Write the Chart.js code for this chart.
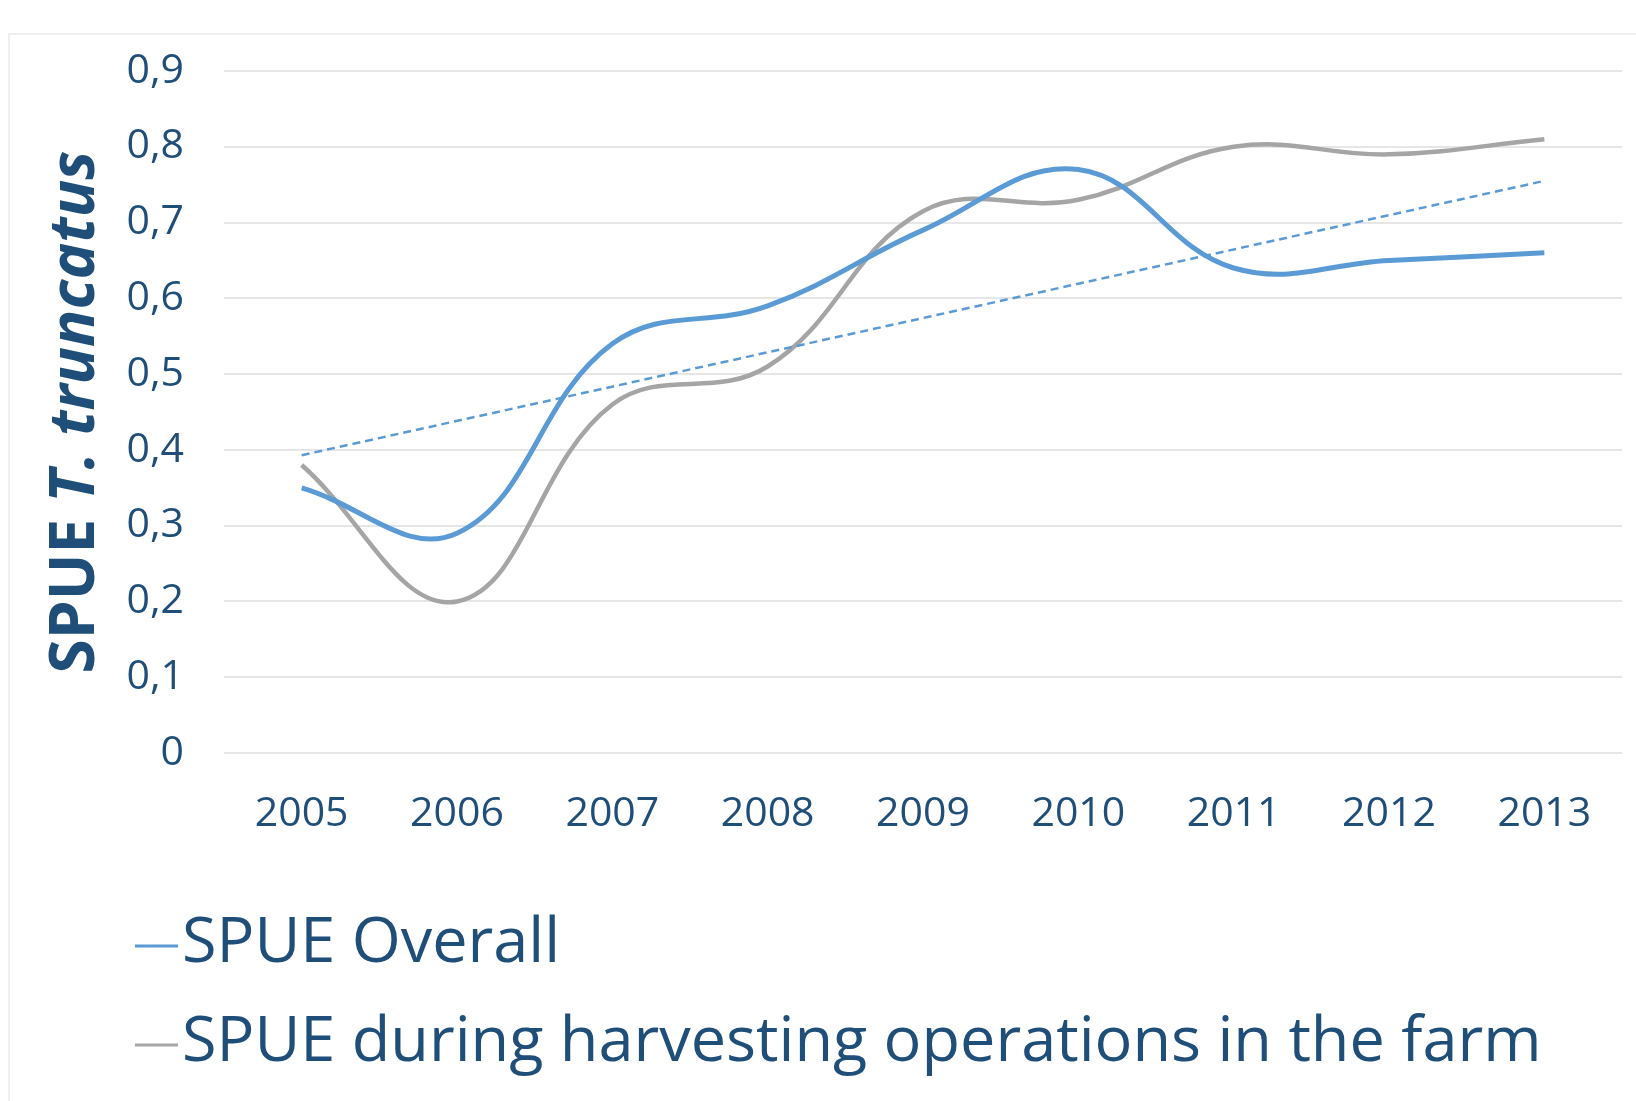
<!DOCTYPE html>
<html>
<head>
<meta charset="utf-8">
<script src="https://cdn.jsdelivr.net/npm/chart.js@4.4.0/dist/chart.umd.min.js"></script>
<style>
  html, body { margin: 0; padding: 0; background: #ffffff; }
  #wrap { position: relative; width: 1636px; height: 1101px; overflow: hidden; }
  #frame { position: absolute; left: 8px; top: 33px; width: 1700px; height: 1200px; border: 2px solid #efefef; pointer-events: none; }
  canvas { position: absolute; left: 0; top: 0; }
</style>
</head>
<body>
<div id="wrap">
  <div id="frame"></div>
  <canvas id="c" width="1636" height="1101"></canvas>
</div>
<script>
const years = ['2005', '2006', '2007', '2008', '2009', '2010', '2011', '2012', '2013'];
const spueOverall = [0.35, 0.29, 0.54, 0.59, 0.69, 0.77, 0.64, 0.65, 0.66];
const spueHarvest = [0.38, 0.20, 0.46, 0.51, 0.715, 0.73, 0.80, 0.79, 0.81];
const trendOverall = [0.393, null, null, null, null, null, null, null, 0.755];
const seriesNames = ['SPUE Overall', 'SPUE during harvesting operations in the farm'];
const yTitleParts = [['SPUE ', 'normal'], ['T. truncatus', 'italic']];

const DARK = '#1F4E79';
const FONT = "'Open Sans', sans-serif";

const legendPlugin = {
  id: 'bottomLegend',
  afterDraw(chart) {
    const ctx = chart.ctx;
    const items = chart.data.datasets.filter(d => d.showInLegend);
    const rowsY = [944, 1043];
    ctx.save();
    items.forEach((ds, i) => {
      const y = rowsY[i];
      ctx.strokeStyle = ds.borderColor;
      ctx.lineWidth = 3;
      ctx.beginPath();
      ctx.moveTo(135, y + 2);
      ctx.lineTo(178, y + 2);
      ctx.stroke();
      ctx.fillStyle = DARK;
      ctx.font = "63px " + FONT;
      ctx.textBaseline = 'middle';
      ctx.textAlign = 'left';
      ctx.fillText(ds.label, 182, y);
    });
    ctx.restore();
  }
};

function yTitlePartWidths(ctx, fontFor) {
  return yTitleParts.map(p => { ctx.font = fontFor(p[1]); return ctx.measureText(p[0]).width; });
}

const yTitlePlugin = {
  id: 'yTitle',
  afterDraw(chart) {
    const ctx = chart.ctx;
    const area = chart.chartArea;
    const cy = (area.top + area.bottom) / 2;
    const size = 62;
    ctx.save();
    const fontFor = st => st + ' bold ' + size + 'px ' + FONT;
    const widths = yTitlePartWidths(ctx, fontFor);
    const total = widths.reduce((a, b) => a + b, 0);
    ctx.translate(76, cy);
    ctx.rotate(-Math.PI / 2);
    ctx.fillStyle = DARK;
    ctx.textBaseline = 'middle';
    ctx.textAlign = 'left';
    let x = -total / 2;
    yTitleParts.forEach((p, i) => {
      ctx.font = fontFor(p[1]);
      ctx.fillText(p[0], x, 0);
      x += widths[i];
    });
    ctx.restore();
  }
};

new Chart(document.getElementById('c'), {
  type: 'line',
  data: {
    labels: years,
    datasets: [
      {
        label: seriesNames[0],
        data: spueOverall,
        borderColor: '#5B9BD5',
        borderWidth: 5,
        tension: 0.4,
        pointRadius: 0,
        fill: false,
        showInLegend: true,
        order: 1
      },
      {
        label: seriesNames[1],
        data: spueHarvest,
        borderColor: '#A5A5A5',
        borderWidth: 4.5,
        tension: 0.4,
        pointRadius: 0,
        fill: false,
        showInLegend: true,
        order: 2
      },
      {
        label: 'Linear (SPUE Overall)',
        data: trendOverall,
        borderColor: '#5B9BD5',
        borderWidth: 2.5,
        borderDash: [8, 5],
        tension: 0,
        spanGaps: true,
        pointRadius: 0,
        fill: false,
        showInLegend: false,
        order: 0
      }
    ]
  },
  options: {
    responsive: false,
    animation: false,
    devicePixelRatio: 1,
    layout: { padding: { top: 71, right: 14, left: 0, bottom: 0 } },
    plugins: {
      legend: { display: false },
      tooltip: { enabled: false }
    },
    scales: {
      x: {
        offset: true,
        grid: { display: false, drawTicks: false },
        border: { display: false },
        ticks: {
          color: DARK,
          font: { family: FONT, size: 41 },
          padding: 37,
          maxRotation: 0
        },
        afterFit(scale) { scale.height = 1101 - 753; }
      },
      y: {
        min: 0,
        max: 0.9,
        grid: { color: '#E6E6E6', lineWidth: 2, drawTicks: false },
        border: { display: false },
        ticks: {
          stepSize: 0.1,
          color: DARK,
          font: { family: FONT, size: 41 },
          padding: 40,
          callback: v => (Math.abs(v) < 1e-9 ? '0' : v.toFixed(1).replace('.', ','))
        },
        afterFit(scale) { scale.width = 224; }
      }
    }
  },
  plugins: [legendPlugin, yTitlePlugin]
});
</script>
</body>
</html>
